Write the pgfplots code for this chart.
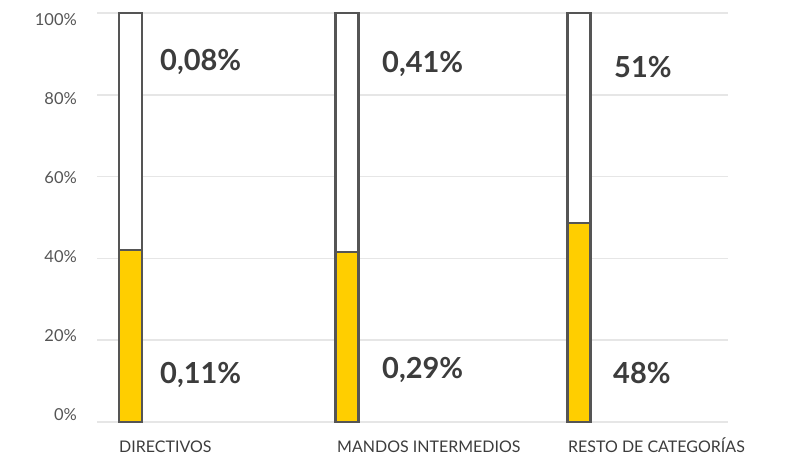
\documentclass[border=0pt]{standalone}
\usepackage{pgfplots}
\pgfplotsset{compat=1.18}
\usepackage{fontspec}
\setmainfont{Lato}
\definecolor{barfill}{HTML}{FFCE00}
\definecolor{barline}{HTML}{555555}
\definecolor{gridc}{HTML}{E6E6E6}
\definecolor{valtext}{HTML}{3C3C3C}
\definecolor{ticktext}{HTML}{555555}
\tikzset{
  vallab/.style={anchor=west, inner sep=0pt, text depth=0pt, text=valtext, font=\fontsize{29}{29}\selectfont\bfseries},
  catlab/.style={anchor=base west, inner sep=0pt, text=valtext, font=\fontsize{16}{16}\selectfont, yshift=-30.8pt},
}
\begin{document}
\begin{tikzpicture}
\path[use as bounding box] (-97pt,-34pt) rectangle (689pt,422pt);
\begin{axis}[
    scale only axis,
    width=631pt, height=409pt,
    xmin=97, xmax=728,
    ymin=0, ymax=100,
    ybar stacked,
    bar width=23,
    axis line style={draw=none},
    major tick length=0pt,
    xtick=\empty,
    ytick={1.71,21.03,40.34,59.66,78.97,98.29},
    yticklabels={0\%,20\%,40\%,60\%,80\%,100\%},
    yticklabel style={font=\fontsize{16.5}{16.5}\selectfont, text=ticktext, inner sep=0pt, anchor=east, xshift=-20pt},
    extra y ticks={0,20,40,60,80,100},
    extra y tick style={yticklabels={}, grid=major, major grid style={draw=gridc, line width=1.5pt}},
    clip=false,
]
\addplot[fill=barfill, draw=barline, line width=2.4pt] coordinates {(130.5,42) (347,41.5) (579,48.7)};
\addplot[fill=white, draw=barline, line width=2.4pt] coordinates {(130.5,58) (347,58.5) (579,51.3)};

\node[vallab] at (axis cs:160,88.5) {0,08\%};
\node[vallab] at (axis cs:160,12.0) {0,11\%};
\node[vallab] at (axis cs:382,88.0) {0,41\%};
\node[vallab] at (axis cs:382,13.2) {0,29\%};
\node[vallab] at (axis cs:614,86.8) {51\%};
\node[vallab] at (axis cs:613,12.0) {48\%};

\node[catlab] at (axis cs:119,0) {DIRECTIVOS};
\node[catlab] at (axis cs:337,0) {MANDOS INTERMEDIOS};
\node[catlab] at (axis cs:568,0) {RESTO DE CATEGORÍAS};
\end{axis}
\end{tikzpicture}
\end{document}
